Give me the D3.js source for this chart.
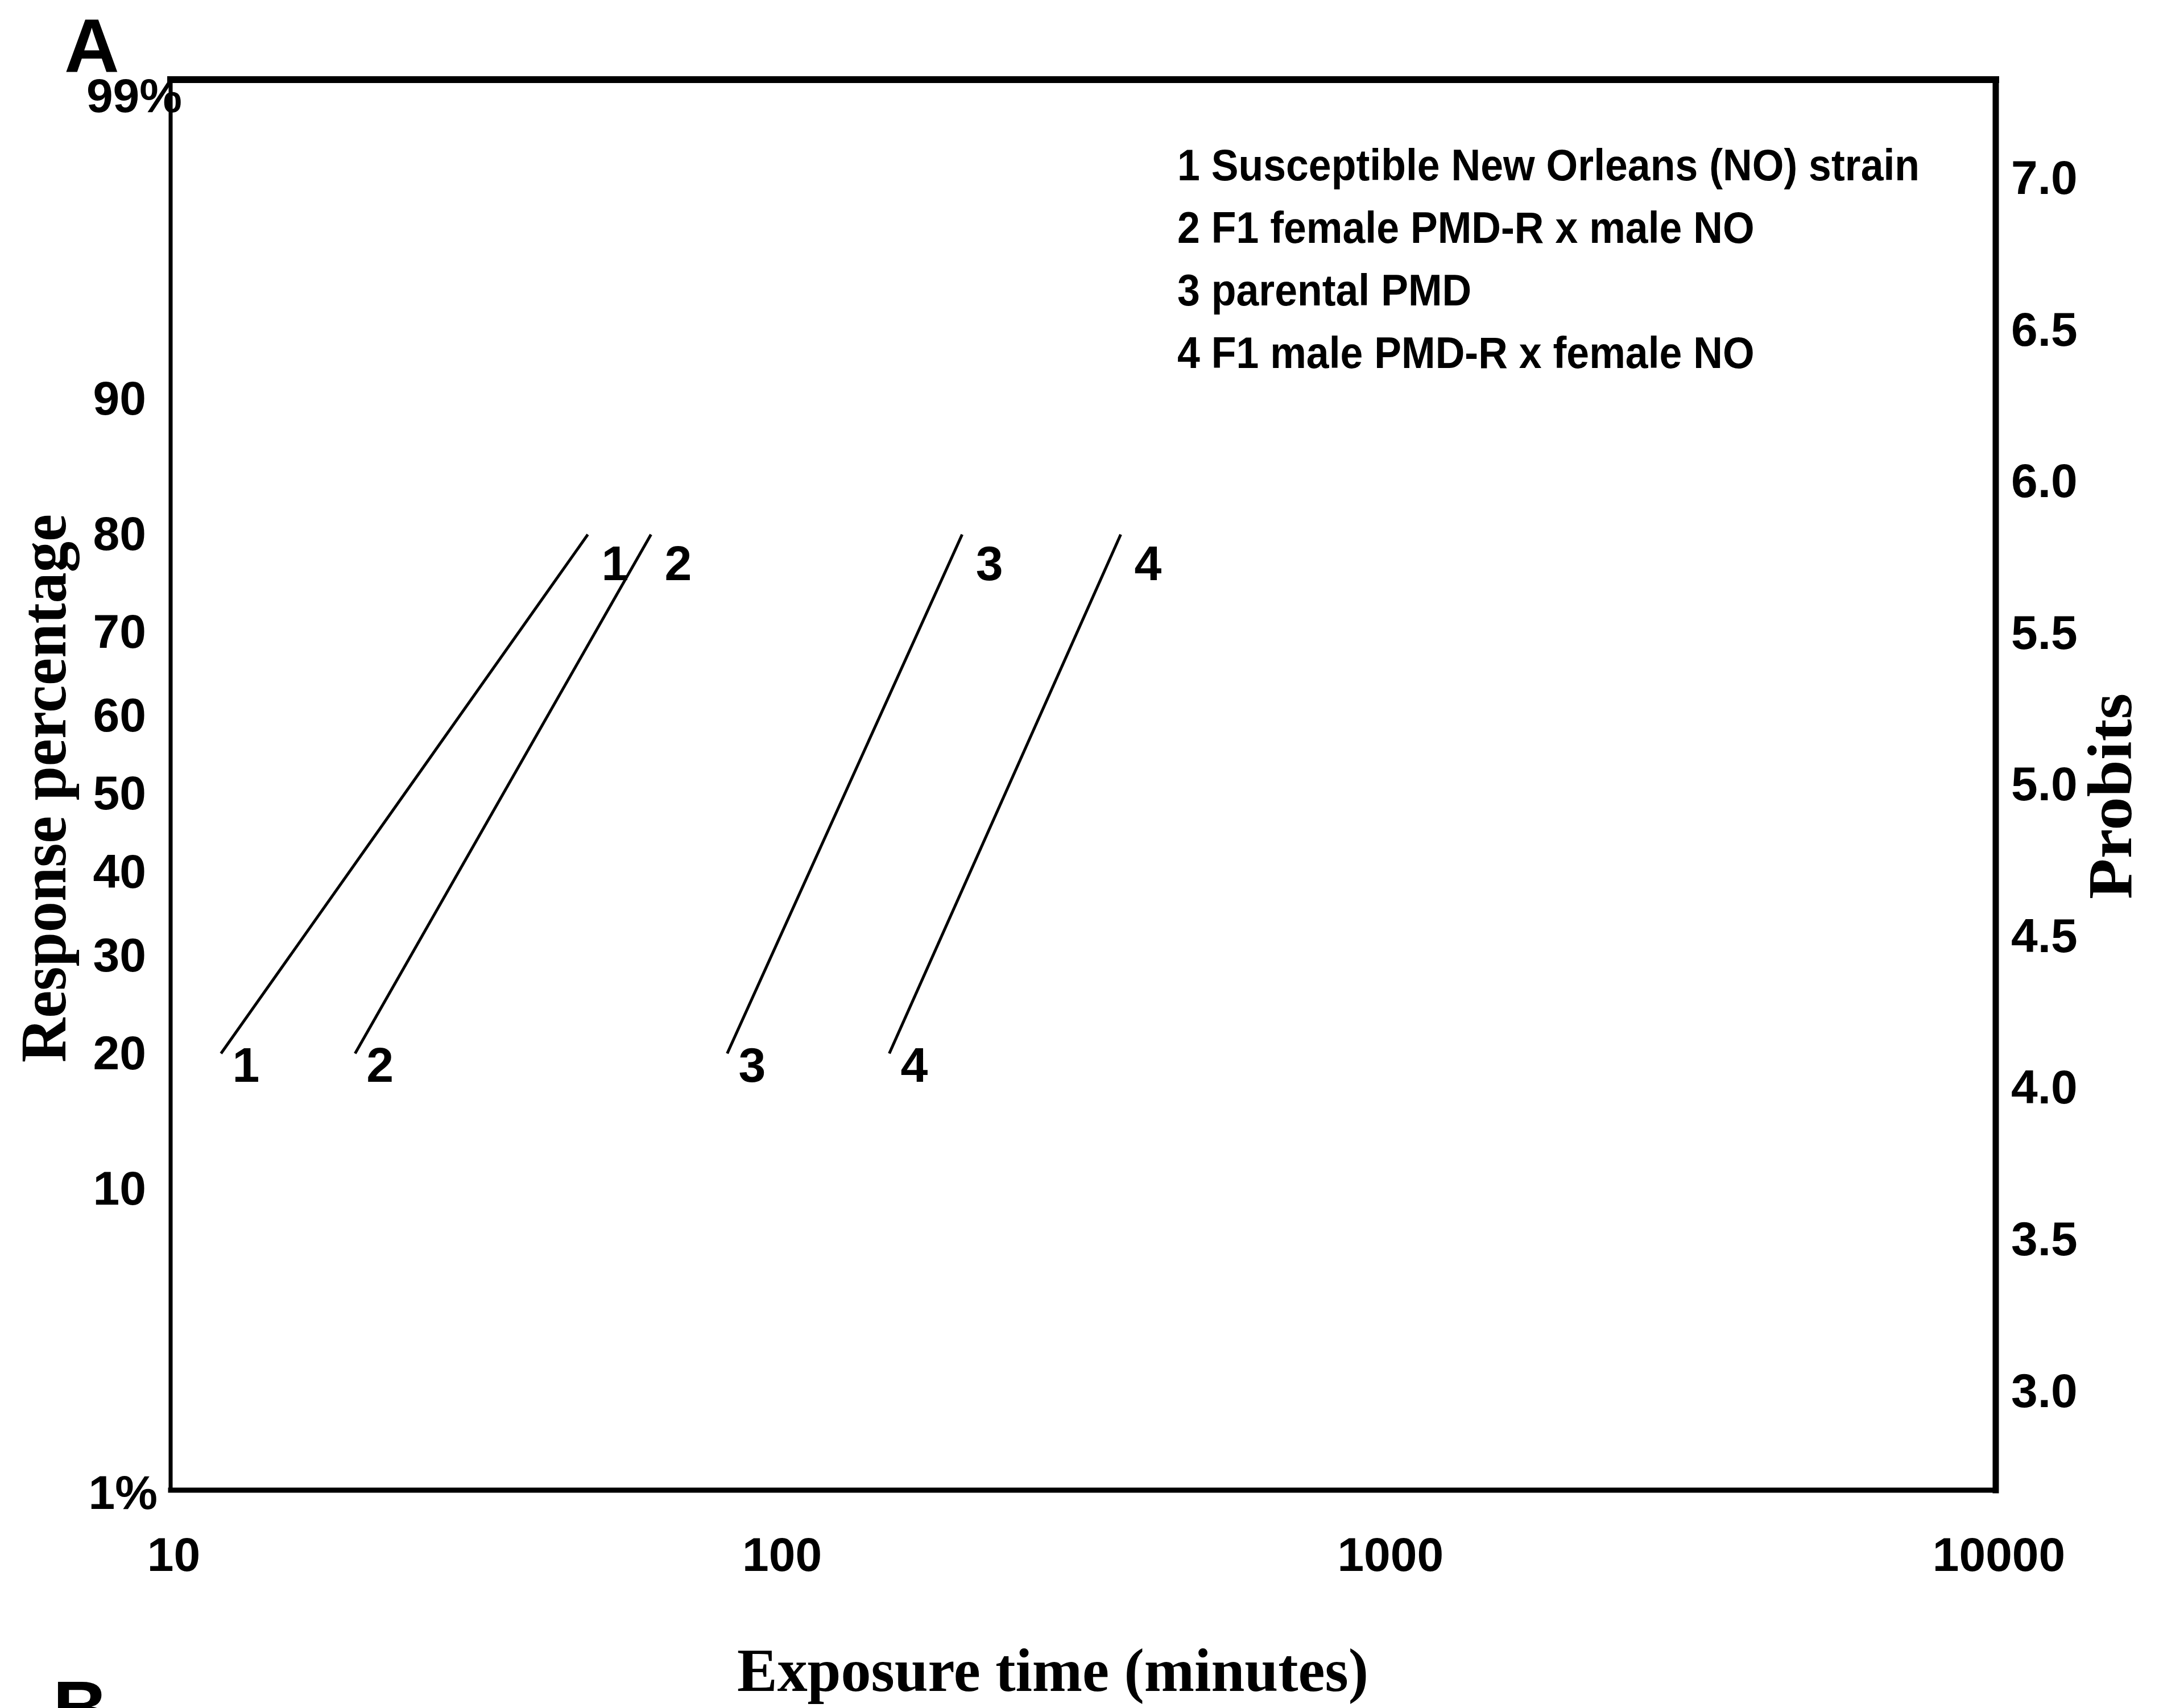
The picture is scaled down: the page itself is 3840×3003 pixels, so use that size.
<!DOCTYPE html>
<html>
<head>
<meta charset="utf-8">
<script src="https://cdn.jsdelivr.net/npm/d3@7"></script>
<style>
  body { margin: 0; background: #fff; }
</style>
</head>
<body>
<div id="my_dataviz"></div>
<script>
// ---------------------------//
//       DATA                 //
// ---------------------------//

// line number used as label on the plot, and the legend text
var lineIds = ["1", "2", "3", "4"];
var legendLabels = [
  "1 Susceptible New Orleans (NO) strain",
  "2 F1 female PMD-R x male NO",
  "3 parental PMD",
  "4 F1 male PMD-R x female NO"
];

// exposure time (minutes) at the lower and upper end of each probit line
var timeLow  = [12.1, 20.1, 82.2, 151.8];
var timeHigh = [48.5, 61.6, 200, 364.5];
// response (%) at the two ends
var responseLow  = [20, 20, 20, 20];
var responseHigh = [80, 80, 80, 80];

// tick labels
var percentTicks = [90, 80, 70, 60, 50, 40, 30, 20, 10];
var probitTicks = [3.0, 3.5, 4.0, 4.5, 5.0, 5.5, 6.0, 6.5, 7.0];
var timeTicks = [10, 100, 1000, 10000];

// inverse normal cdf (Acklam), used for the probit scale
function probit(p) {
  var a = [-3.969683028665376e+01, 2.209460984245205e+02, -2.759285104469687e+02, 1.383577518672690e+02, -3.066479806614716e+01, 2.506628277459239e+00];
  var b = [-5.447609879822406e+01, 1.615858368580409e+02, -1.556989798598866e+02, 6.680131188771972e+01, -1.328068155288572e+01];
  var c = [-7.784894002430293e-03, -3.223964580411365e-01, -2.400758277161838e+00, -2.549732539343734e+00, 4.374664141464968e+00, 2.938163982698783e+00];
  var d = [7.784695709041462e-03, 3.224671290700398e-01, 2.445134137142996e+00, 3.754408661907416e+00];
  var q, r;
  if (p < 0.02425) {
    q = Math.sqrt(-2 * Math.log(p));
    return (((((c[0]*q+c[1])*q+c[2])*q+c[3])*q+c[4])*q+c[5]) / ((((d[0]*q+d[1])*q+d[2])*q+d[3])*q+1);
  }
  if (p > 1 - 0.02425) {
    q = Math.sqrt(-2 * Math.log(1 - p));
    return -(((((c[0]*q+c[1])*q+c[2])*q+c[3])*q+c[4])*q+c[5]) / ((((d[0]*q+d[1])*q+d[2])*q+d[3])*q+1);
  }
  q = p - 0.5; r = q * q;
  return (((((a[0]*r+a[1])*r+a[2])*r+a[3])*r+a[4])*r+a[5])*q / (((((b[0]*r+b[1])*r+b[2])*r+b[3])*r+b[4])*r+1);
}
function toProbit(pct) { return 5 + probit(pct / 100); }

// ---------------------------//
//       LAYOUT               //
// ---------------------------//
var W = 3840, H = 3003;
var margin = {top: 140, right: 331, bottom: 383, left: 300};
var width = W - margin.left - margin.right,
    height = H - margin.top - margin.bottom;

var svg = d3.select("#my_dataviz")
  .append("svg")
  .attr("width", W)
  .attr("height", H)
  .style("background", "#fff");

var g = svg.append("g")
  .attr("transform", "translate(" + margin.left + "," + margin.top + ")");

var sansBold = "'Liberation Sans', Arial, sans-serif";
var serifBold = "'Liberation Serif', 'Times New Roman', serif";

// ---------------------------//
//       SCALES               //
// ---------------------------//
var x = d3.scaleLog().domain([10, 10000]).range([0, width]);
// left (percentage) axis, in probit units
var y = d3.scaleLinear().domain([2.742, 7.317]).range([height, 0]);
// right (probit) axis, printed slightly offset in the original
var yRight = d3.scaleLinear().domain([2.674, 7.326]).range([height, 0]);

// ---------------------------//
//       AXES                 //
// ---------------------------//
function styleAxis(sel) {
  sel.select(".domain").remove();
  sel.selectAll("text")
    .style("font-family", sansBold)
    .style("font-weight", "bold")
    .style("font-size", "84px")
    .attr("fill", "#000");
}

g.append("g")
  .call(d3.axisLeft(y)
    .tickValues(percentTicks.map(toProbit))
    .tickFormat(function(d, i) { return percentTicks[i]; })
    .tickSize(0)
    .tickPadding(43))
  .call(styleAxis);

g.append("g")
  .attr("transform", "translate(" + width + ",0)")
  .call(d3.axisRight(yRight)
    .tickValues(probitTicks)
    .tickFormat(d3.format(".1f"))
    .tickSize(0)
    .tickPadding(27))
  .call(styleAxis);

g.append("g")
  .attr("transform", "translate(0," + height + ")")
  .call(d3.axisBottom(x)
    .tickValues(timeTicks)
    .tickFormat(d3.format("d"))
    .tickSize(0)
    .tickPadding(82))
  .call(styleAxis)
  .selectAll("text").attr("dx", 5);

// corner labels of the percentage axis
g.append("text")
  .attr("x", 20).attr("y", 57)
  .attr("text-anchor", "end")
  .style("font-family", sansBold).style("font-weight", "bold").style("font-size", "84px")
  .text("99%");
g.append("text")
  .attr("x", -23).attr("y", height + 33)
  .attr("text-anchor", "end")
  .style("font-family", sansBold).style("font-weight", "bold").style("font-size", "84px")
  .text("1%");

// frame
var frame = [
  {x1: 0, y1: 0, x2: 0, y2: height, w: 7},
  {x1: 0, y1: height, x2: width, y2: height, w: 9},
  {x1: 0, y1: 0, x2: width, y2: 0, w: 12},
  {x1: width, y1: 0, x2: width, y2: height, w: 11}
];
g.selectAll("line.frame")
  .data(frame)
  .enter()
  .append("line")
  .attr("class", "frame")
  .attr("x1", function(d) { return d.x1; })
  .attr("y1", function(d) { return d.y1; })
  .attr("x2", function(d) { return d.x2; })
  .attr("y2", function(d) { return d.y2; })
  .attr("stroke", "#000")
  .attr("stroke-width", function(d) { return d.w; })
  .attr("stroke-linecap", "square");

// ---------------------------//
//       PROBIT LINES         //
// ---------------------------//
var lines = lineIds.map(function(id, i) {
  return {
    id: id,
    pts: [{t: timeLow[i], p: responseLow[i]}, {t: timeHigh[i], p: responseHigh[i]}]
  };
});

var line = d3.line()
  .x(function(d) { return x(d.t); })
  .y(function(d) { return y(toProbit(d.p)); });

g.selectAll("path.probit")
  .data(lines)
  .enter()
  .append("path")
  .attr("class", "probit")
  .attr("d", function(d) { return line(d.pts); })
  .attr("fill", "none")
  .attr("stroke", "#000")
  .attr("stroke-width", 5);

// line numbers at both ends
g.selectAll("text.lowlab")
  .data(lines)
  .enter()
  .append("text")
  .attr("class", "lowlab")
  .attr("x", function(d) { return x(d.pts[0].t) + 20; })
  .attr("y", function(d) { return y(toProbit(d.pts[0].p)) + 50; })
  .style("font-family", sansBold).style("font-weight", "bold").style("font-size", "86px")
  .text(function(d) { return d.id; });

g.selectAll("text.highlab")
  .data(lines)
  .enter()
  .append("text")
  .attr("class", "highlab")
  .attr("x", function(d) { return x(d.pts[1].t) + 24; })
  .attr("y", function(d) { return y(toProbit(d.pts[1].p)) + 80; })
  .style("font-family", sansBold).style("font-weight", "bold").style("font-size", "86px")
  .text(function(d) { return d.id; });

// ---------------------------//
//       LEGEND               //
// ---------------------------//
var legend = svg.append("g")
  .attr("transform", "translate(2070,317) scale(0.93,1)");
legend.selectAll("text")
  .data(legendLabels)
  .enter()
  .append("text")
  .attr("x", 0)
  .attr("y", function(d, i) { return i * 110; })
  .style("font-family", sansBold).style("font-weight", "bold").style("font-size", "77px")
  .text(function(d) { return d; });

// ---------------------------//
//       TITLES               //
// ---------------------------//
svg.append("text")
  .attr("transform", "translate(115,1386) rotate(-90)")
  .attr("text-anchor", "middle")
  .attr("textLength", 964)
  .attr("lengthAdjust", "spacingAndGlyphs")
  .style("font-family", serifBold).style("font-weight", "bold").style("font-size", "115px")
  .text("Response percentage");

svg.append("text")
  .attr("transform", "translate(3747,1400) rotate(-90)")
  .attr("text-anchor", "middle")
  .attr("textLength", 362)
  .attr("lengthAdjust", "spacingAndGlyphs")
  .style("font-family", serifBold).style("font-weight", "bold").style("font-size", "110px")
  .text("Probits");

svg.append("text")
  .attr("x", 1851)
  .attr("y", 2973)
  .attr("text-anchor", "middle")
  .attr("textLength", 1110)
  .attr("lengthAdjust", "spacingAndGlyphs")
  .style("font-family", serifBold).style("font-weight", "bold").style("font-size", "107px")
  .text("Exposure time (minutes)");

// panel letters
svg.append("text")
  .attr("x", 113).attr("y", 127)
  .style("font-family", sansBold).style("font-weight", "bold").style("font-size", "134px")
  .text("A");
svg.append("text")
  .attr("x", 93).attr("y", 3049)
  .style("font-family", sansBold).style("font-weight", "bold").style("font-size", "134px")
  .text("B");
</script>
</body>
</html>
